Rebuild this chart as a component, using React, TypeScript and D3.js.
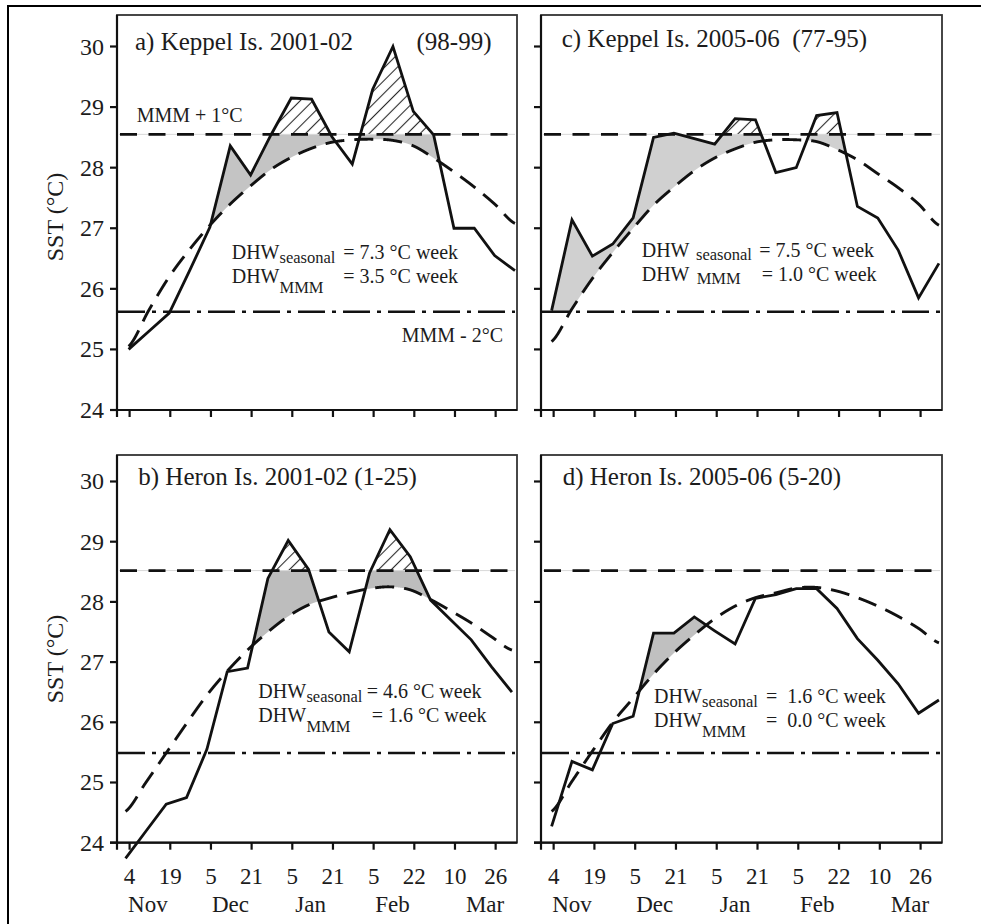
import React from 'react';
import * as d3 from 'd3';

const W = 981;
const H = 924;

// ---- axis labels ----
const dayLabels = ['4', '19', '5', '21', '5', '21', '5', '22', '10', '26'];
const dayTickIndex = [0, 2, 4, 6, 8, 10, 12, 14, 16, 18];
const monthLabels = ['Nov', 'Dec', 'Jan', 'Feb', 'Mar'];
const monthIndex = [0.9, 4.96, 8.9, 12.93, 17.48];
const yTickValues = [24, 25, 26, 27, 28, 29, 30];

// ---- data: weekly-ish SST (solid) and seasonal climatology (dashed) ----
// a) Keppel Is. 2001-02
const sstA = [25.0, 25.3, 25.6, 26.3, 27.02, 28.36, 27.88, 28.54, 29.15, 29.13, 28.51, 28.06, 29.29, 30.0, 28.93, 28.54, 27.0, 27.0, 26.55, 26.3];
const climA = [25.05, 25.65, 26.2, 26.65, 27.05, 27.4, 27.7, 27.97, 28.17, 28.32, 28.42, 28.46, 28.47, 28.45, 28.36, 28.16, 27.93, 27.68, 27.4, 27.08];
// c) Keppel Is. 2005-06
const sstC = [25.64, 27.14, 26.54, 26.74, 27.17, 28.5, 28.57, 28.48, 28.39, 28.81, 28.79, 27.92, 28.0, 28.86, 28.91, 27.36, 27.17, 26.64, 25.85, 26.42];
const climC = [25.13, 25.67, 26.17, 26.6, 27.0, 27.38, 27.68, 27.95, 28.16, 28.31, 28.42, 28.46, 28.46, 28.43, 28.3, 28.13, 27.9, 27.67, 27.4, 27.05];
// b) Heron Is. 2001-02
const sstB = [23.74, 24.19, 24.64, 24.75, 25.55, 26.84, 26.9, 28.39, 29.02, 28.54, 27.5, 27.17, 28.48, 29.2, 28.75, 28.03, 27.7, 27.37, 26.92, 26.5];
const climB = [24.52, 25.0, 25.49, 25.98, 26.45, 26.85, 27.2, 27.5, 27.76, 27.95, 28.06, 28.15, 28.22, 28.25, 28.2, 28.04, 27.85, 27.65, 27.42, 27.2];
// d) Heron Is. 2005-06
const sstD = [24.27, 25.35, 25.21, 25.98, 26.1, 27.48, 27.48, 27.75, 27.52, 27.3, 28.06, 28.12, 28.22, 28.22, 27.89, 27.39, 27.03, 26.64, 26.15, 26.37];
const climD = [24.52, 25.02, 25.52, 26.0, 26.4, 26.8, 27.15, 27.45, 27.72, 27.93, 28.07, 28.15, 28.23, 28.24, 28.18, 28.07, 27.93, 27.76, 27.56, 27.32];

// thresholds (MMM + 1 °C, MMM - 2 °C)
const upperKeppel = 28.55;
const lowerKeppel = 25.62;
const upperHeron = 28.52;
const lowerHeron = 25.49;

// first sample position (index units) per series
const startA = -0.05;
const startC = -0.1;
const startB = -0.2;
const startD = -0.1;

const FONT = "'Liberation Serif', 'Times New Roman', Times, serif";
const INK = '#1c1c1c';

function lerp(vals: number[], t: number) {
  const n = vals.length;
  const i = Math.min(Math.max(Math.floor(t), 0), n - 2);
  const u = t - i;
  return vals[i] + (vals[i + 1] - vals[i]) * u;
}

function catmull(vals: number[], t: number) {
  const n = vals.length;
  const i = Math.min(Math.max(Math.floor(t), 0), n - 2);
  const u = t - i;
  const p0 = vals[Math.max(i - 1, 0)];
  const p1 = vals[i];
  const p2 = vals[i + 1];
  const p3 = vals[Math.min(i + 2, n - 1)];
  return 0.5 * (2 * p1 + (-p0 + p2) * u + (2 * p0 - 5 * p1 + 4 * p2 - p3) * u * u + (-p0 + 3 * p1 - 3 * p2 + p3) * u * u * u);
}

type PanelCfg = {
  id: string;
  left: number; right: number; top: number; bottom: number;
  yMax: number;
  sst: number[]; clim: number[]; start: number;
  upper: number; lower: number;
  fill: string;
  yLabels: boolean; xLabels: boolean;
  titles: { text: string; x: number; y: number }[];
  dhw: {
    x: number; y1: number; y2: number;
    subX1: number; subX2: number; subDy1: number; subDy2: number;
    eqX1: number; eqX2: number; eq1: string; eq2: string;
  };
  yLabelY: number;
  notes?: { text: string; x: number; y: number }[];
};

const panels: PanelCfg[] = [
  {
    id: 'a', left: 117, right: 517, top: 15, bottom: 410, yMax: 30.52,
    sst: sstA, clim: climA, start: startA, upper: upperKeppel, lower: lowerKeppel,
    fill: '#c4c4c4', yLabels: true, xLabels: false,
    titles: [{ text: 'a) Keppel Is. 2001-02', x: 135, y: 50 }, { text: '(98-99)', x: 416.5, y: 50 }],
    dhw: { x: 231.7, y1: 259.3, y2: 282.7, subX1: 279.5, subX2: 279.5, subDy1: 4, subDy2: 10.5, eqX1: 343.3, eqX2: 343.3, eq1: '= 7.3 °C week', eq2: '= 3.5 °C week' },
    yLabelY: 217,
    notes: [{ text: 'MMM + 1°C', x: 136.7, y: 122 }, { text: 'MMM - 2°C', x: 401.7, y: 341.7 }],
  },
  {
    id: 'c', left: 541, right: 942, top: 15, bottom: 410, yMax: 30.52,
    sst: sstC, clim: climC, start: startC, upper: upperKeppel, lower: lowerKeppel,
    fill: '#d0d0d0', yLabels: false, xLabels: false,
    titles: [{ text: 'c) Keppel Is. 2005-06  (77-95)', x: 561.7, y: 47 }],
    dhw: { x: 641.7, y1: 256.7, y2: 281, subX1: 696, subX2: 696.7, subDy1: 3.3, subDy2: 3, eqX1: 759.3, eqX2: 761.7, eq1: '= 7.5 °C week', eq2: '= 1.0 °C week' },
    yLabelY: 217,
  },
  {
    id: 'b', left: 117, right: 517, top: 455, bottom: 842.7, yMax: 30.44,
    sst: sstB, clim: climB, start: startB, upper: upperHeron, lower: lowerHeron,
    fill: '#bdbdbd', yLabels: true, xLabels: true,
    titles: [{ text: 'b) Heron Is. 2001-02 (1-25)', x: 138.3, y: 485 }],
    dhw: { x: 258.3, y1: 698.3, y2: 721.7, subX1: 306.4, subX2: 306.4, subDy1: 3.4, subDy2: 10, eqX1: 366.7, eqX2: 371.7, eq1: '= 4.6 °C week', eq2: '= 1.6 °C week' },
    yLabelY: 659,
  },
  {
    id: 'd', left: 541, right: 942, top: 455, bottom: 842.7, yMax: 30.44,
    sst: sstD, clim: climD, start: startD, upper: upperHeron, lower: lowerHeron,
    fill: '#c0c0c0', yLabels: false, xLabels: true,
    titles: [{ text: 'd) Heron Is. 2005-06 (5-20)', x: 562.7, y: 485 }],
    dhw: { x: 654, y1: 703.3, y2: 726.7, subX1: 702, subX2: 702, subDy1: 3.4, subDy2: 10, eqX1: 766, eqX2: 766, eq1: '=  1.6 °C week', eq2: '=  0.0 °C week' },
    yLabelY: 659,
  },
];

function Panel({ cfg }: { cfg: PanelCfg }) {
  const x = d3.scaleLinear().domain([-0.62, 19.05]).range([cfg.left, cfg.right]);
  const y = d3.scaleLinear().domain([24, cfg.yMax]).range([cfg.bottom, cfg.top]);
  const n = cfg.sst.length;
  const samples = d3.range(0, n - 1, 0.004).concat([n - 1]);
  const s = (t: number) => lerp(cfg.sst, t);
  const c = (t: number) => catmull(cfg.clim, t);
  const floor = (t: number) => Math.max(c(t), cfg.lower);

  const greyArea = d3.area<number>()
    .defined((t) => s(t) > floor(t))
    .x((t) => x(cfg.start + t))
    .y0((t) => y(floor(t)))
    .y1((t) => y(Math.min(s(t), cfg.upper)));

  const hatchArea = d3.area<number>()
    .defined((t) => s(t) > cfg.upper)
    .x((t) => x(cfg.start + t))
    .y0(() => y(cfg.upper))
    .y1((t) => y(s(t)));

  const climLine = d3.line<number>()
    .x((t) => x(cfg.start + t))
    .y((t) => y(c(t)));

  const sstLine = d3.line<number>()
    .x((_, i) => x(cfg.start + i))
    .y((v) => y(v));

  const tick = 7;
  const hatchId = `hatch-${cfg.id}`;
  const f = FONT;

  return (
    <g>
      <defs>
        <pattern id={hatchId} width={9} height={9} patternUnits="userSpaceOnUse" patternTransform="rotate(45)">
          <line x1={4.5} y1={0} x2={4.5} y2={9} stroke="#2a2a2a" strokeWidth={1.1} />
        </pattern>
      </defs>
      {/* fills */}
      <path d={greyArea(samples) || ''} fill={cfg.fill} stroke="none" />
      <path d={hatchArea(samples) || ''} fill={`url(#${hatchId})`} stroke="none" />
      {/* thresholds */}
      <line x1={cfg.left + 2} x2={cfg.right - 2} y1={y(cfg.upper)} y2={y(cfg.upper)} stroke="#d8d8d8" strokeWidth={1} />
      <line x1={cfg.left + 3} x2={cfg.right - 2} y1={y(cfg.upper)} y2={y(cfg.upper)} stroke="#111" strokeWidth={2.7} strokeDasharray="17,11.5" />
      <line x1={cfg.left + 1} x2={cfg.right - 2} y1={y(cfg.lower)} y2={y(cfg.lower)} stroke="#111" strokeWidth={2.5} strokeDasharray="27,7,4,7" />
      {/* climatology */}
      <path d={climLine(samples) || ''} fill="none" stroke="#111" strokeWidth={2.9} strokeDasharray="19,10" />
      {/* SST */}
      <path d={sstLine(cfg.sst) || ''} fill="none" stroke="#111" strokeWidth={2.8} strokeLinejoin="miter" />
      {/* frame */}
      <rect x={cfg.left} y={cfg.top} width={cfg.right - cfg.left} height={cfg.bottom - cfg.top} fill="none" stroke="#333" strokeWidth={1.8} />
      <line x1={cfg.left} x2={cfg.left} y1={cfg.top} y2={cfg.bottom + tick} stroke="#111" strokeWidth={2.2} />
      <line x1={cfg.left - tick} x2={cfg.right} y1={cfg.bottom} y2={cfg.bottom} stroke="#111" strokeWidth={2.2} />
      {yTickValues.map((v) => (
        <line key={`yt${v}`} x1={cfg.left - tick} x2={cfg.left} y1={y(v)} y2={y(v)} stroke="#111" strokeWidth={2.2} />
      ))}
      {dayTickIndex.map((k) => (
        <line key={`xt${k}`} x1={x(k)} x2={x(k)} y1={cfg.bottom} y2={cfg.bottom + tick} stroke="#111" strokeWidth={2.2} />
      ))}
      {cfg.yLabels && yTickValues.map((v) => (
        <text key={`yl${v}`} x={cfg.left - 13} y={y(v) + 8} textAnchor="end" fontFamily={f} fontSize={24} fill={INK}>{v}</text>
      ))}
      {cfg.yLabels && (
        <text transform={`translate(63,${cfg.yLabelY}) rotate(-90)`} textAnchor="middle" fontFamily={f} fontSize={24} fill={INK}>SST (°C)</text>
      )}
      {cfg.xLabels && dayTickIndex.map((k, i) => (
        <text key={`xl${k}`} x={x(k)} y={884} textAnchor="middle" fontFamily={f} fontSize={23} fill={INK}>{dayLabels[i]}</text>
      ))}
      {cfg.xLabels && monthLabels.map((m, i) => (
        <text key={`m${m}`} x={x(monthIndex[i])} y={912} textAnchor="middle" fontFamily={f} fontSize={23} fill={INK}>{m}</text>
      ))}
      {/* titles */}
      {cfg.titles.map((t, i) => (
        <text key={`t${i}`} x={t.x} y={t.y} fontFamily={f} fontSize={25} fill={INK} style={{ whiteSpace: 'pre' }}>{t.text}</text>
      ))}
      {(cfg.notes || []).map((t, i) => (
        <text key={`n${i}`} x={t.x} y={t.y} fontFamily={f} fontSize={20} fill={INK}>{t.text}</text>
      ))}
      {/* DHW annotation */}
      <text x={cfg.dhw.x} y={cfg.dhw.y1} fontFamily={f} fontSize={20} fill={INK}>DHW</text>
      <text x={cfg.dhw.subX1} y={cfg.dhw.y1 + cfg.dhw.subDy1} fontFamily={f} fontSize={16.5} fill={INK}>seasonal</text>
      <text x={cfg.dhw.eqX1} y={cfg.dhw.y1} fontFamily={f} fontSize={20} fill={INK} style={{ whiteSpace: 'pre' }}>{cfg.dhw.eq1}</text>
      <text x={cfg.dhw.x} y={cfg.dhw.y2} fontFamily={f} fontSize={20} fill={INK}>DHW</text>
      <text x={cfg.dhw.subX2} y={cfg.dhw.y2 + cfg.dhw.subDy2} fontFamily={f} fontSize={16.5} fill={INK}>MMM</text>
      <text x={cfg.dhw.eqX2} y={cfg.dhw.y2} fontFamily={f} fontSize={20} fill={INK} style={{ whiteSpace: 'pre' }}>{cfg.dhw.eq2}</text>
    </g>
  );
}

export default function App() {
  return (
    <svg width={W} height={H} viewBox={`0 0 ${W} ${H}`} style={{ position: 'absolute', left: 0, top: 0, background: '#fff' }}>
      <rect x={0} y={0} width={W} height={H} fill="#fff" />
      <line x1={7} x2={W} y1={6} y2={6} stroke="#000" strokeWidth={2} />
      <line x1={8} x2={8} y1={5} y2={H} stroke="#000" strokeWidth={2} />
      {panels.map((p) => (
        <Panel key={p.id} cfg={p} />
      ))}
    </svg>
  );
}
